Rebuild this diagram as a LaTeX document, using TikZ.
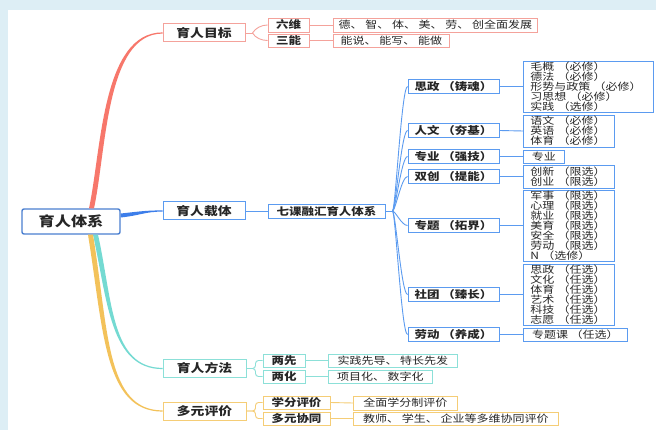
\documentclass[tikz,border=0pt]{standalone}
\usepackage{fontspec}
\setmainfont[FakeStretch=1.2]{Noto Sans CJK SC}

\definecolor{bgblue}{HTML}{DDEEF5}
\definecolor{txtgray}{HTML}{262626}
\definecolor{rootblue}{HTML}{4A7FD0}
\definecolor{salline}{HTML}{F7776B}
\definecolor{salbox}{HTML}{F4A29B}
\definecolor{bline}{HTML}{3D7EEA}
\definecolor{bluebox}{HTML}{5B9BF0}
\definecolor{tealline}{HTML}{74DAD2}
\definecolor{tealbox}{HTML}{8CE0D8}
\definecolor{oraline}{HTML}{F3C25A}
\definecolor{orabox}{HTML}{F5CD76}

\newcommand{\stackfont}{\fontsize{10}{10}\selectfont\lineskiplimit=-20pt\relax}
\newcommand{\wordfont}{\fontsize{10}{11}\selectfont}
\newcommand{\twofont}{\fontsize{10.4}{12}\selectfont\bfseries}
\newcommand{\onefont}{\fontsize{11.5}{13}\selectfont\bfseries}

\tikzset{
  lone/.style={draw=#1, line width=1pt, fill=white, minimum width=82pt,
    minimum height=18pt, inner sep=0pt, font=\onefont, text=txtgray},
  ltwo/.style={draw=#1, line width=0.9pt, fill=white, minimum height=14pt,
    inner sep=0pt, font=\twofont, text=txtgray},
  leaf/.style={draw=#1, line width=0.8pt, fill=white, anchor=west,
    inner sep=0pt, font=\wordfont, text=txtgray},
  stack/.style={leaf=#1, align=left, inner xsep=7pt, font=\stackfont},
  twig/.style={draw=#1, line width=0.9pt},
}

\begin{document}
\begin{tikzpicture}[x=1pt,y=-1pt]
  \useasboundingbox (0,0) rectangle (656,430);
  \fill[bgblue] (0,0) rectangle (656,430);
  \fill[white] (8,10) rectangle (656,430);

  % root and first level
  \node[draw=rootblue, line width=1.4pt, rounded corners=2pt, fill=white,
    minimum width=98pt, minimum height=25pt, inner sep=0pt,
    font=\fontsize{13.5}{15}\selectfont\bfseries, text=txtgray] (root) at (71,221.5) {育人体系};
  \node[lone=salbox] (goal) at (204,33) {育人目标};
  \node[lone=bluebox] (carrier) at (204,211) {育人载体};
  \node[lone=tealbox, minimum width=83pt] (method) at (204.5,368.5) {育人方法};
  \node[lone=orabox, minimum width=83pt] (evalu) at (204.5,411) {多元评价};

  % goal
  \node[ltwo=salbox, minimum width=41pt] (liuwei) at (288.5,25) {六维};
  \node[ltwo=salbox, minimum width=41pt, minimum height=13pt] (sanneng) at (288.5,40.5) {三能};
  \node[leaf=salbox, minimum width=204pt, minimum height=14pt] (liuweiL) at (333,25) {德、 智、 体、 美、 劳、 创全面发展};
  \node[leaf=salbox, minimum width=116pt, minimum height=13pt] (sannengL) at (333,40.5) {能说、 能写、 能做};

  % carrier
  \node[ltwo=bluebox, minimum width=117pt] (qike) at (326.5,211) {七课融汇育人体系};
  \foreach \nm/\y/\txt in {sz/86.5/思政 （铸魂）, rw/130.5/人文 （夯基）,
      zy/156.5/专业 （强技）, sc/176.5/双创 （提能）, zt/225.5/专题 （拓界）,
      st/294.5/社团 （臻长）, ld/334.5/劳动 （养成）}
    \node[ltwo=bluebox, minimum width=91pt, minimum height=13.5pt] (\nm) at (453.5,\y) {\txt};
  \node[stack=bluebox, text width=116pt, minimum height=51pt] (szL) at (523,86.5)
    {毛概 （必修）\\德法 （必修）\\形势与政策 （必修）\\习思想 （必修）\\实践 （选修）};
  \node[stack=bluebox, text width=77pt, minimum height=32pt] (rwL) at (523,131)
    {语文 （必修）\\英语 （必修）\\体育 （必修）};
  \node[leaf=bluebox, minimum width=41pt, minimum height=13pt] (zyL) at (523,156.5) {专业};
  \node[stack=bluebox, text width=77pt, minimum height=23pt] (scL) at (523,176.5)
    {创新 （限选）\\创业 （限选）};
  \node[stack=bluebox, text width=77pt, minimum height=71pt] (ztL) at (523,225.5)
    {军事 （限选）\\心理 （限选）\\就业 （限选）\\美育 （限选）\\安全 （限选）\\劳动 （限选）\\N （选修）};
  \node[stack=bluebox, text width=77pt, minimum height=61pt] (stL) at (523,294.5)
    {思政 （任选）\\文化 （任选）\\体育 （任选）\\艺术 （任选）\\科技 （任选）\\志愿 （任选）};
  \node[leaf=bluebox, minimum width=104pt, minimum height=13pt] (ldL) at (523,334.5) {专题课 （任选）};

  % method
  \node[ltwo=tealbox, minimum width=42pt, minimum height=13pt] (liangxian) at (284,360.5) {两先};
  \node[ltwo=tealbox, minimum width=42pt, minimum height=13pt] (lianghua) at (284,376.5) {两化};
  \node[leaf=tealbox, minimum width=129pt, minimum height=13pt] (liangxianL) at (328,360.5) {实践先导、 特长先发};
  \node[leaf=tealbox, minimum width=104pt, minimum height=13pt] (lianghuaL) at (328,376.5) {项目化、 数字化};

  % evaluation
  \node[ltwo=orabox, minimum width=67pt, minimum height=13pt] (xuefen) at (296.5,402.5) {学分评价};
  \node[ltwo=orabox, minimum width=67pt, minimum height=13pt] (duoyuan) at (296.5,418.5) {多元协同};
  \node[leaf=orabox, minimum width=104pt, minimum height=14pt] (xuefenL) at (353,403) {全面学分制评价};
  \node[leaf=orabox, minimum width=205pt, minimum height=13pt] (duoyuanL) at (353,418.5) {教师、 学生、 企业等多维协同评价};

  % main branches
  \fill[salline] ([xshift=18pt]root.north) .. controls (101.5,150) and (102,32.4) .. ([yshift=0.6pt]goal.west)
    -- ([yshift=-0.6pt]goal.west) .. controls (106,33.6) and (106.5,150) .. ([xshift=23pt]root.north) -- cycle;
  \fill[bline] ([yshift=8pt]root.east) .. controls (140,211.5) and (145,210.4) .. ([yshift=0.6pt]carrier.west)
    -- ([yshift=-0.6pt]carrier.west) .. controls (145,211.6) and (140,215.5) .. ([yshift=4pt]root.east) -- cycle;
  \fill[tealline] ([xshift=22pt]root.south) .. controls (107.5,300) and (110,369.1) .. ([yshift=-0.6pt]method.west)
    -- ([yshift=0.6pt]method.west) .. controls (111,367.9) and (112.5,300) .. ([xshift=27pt]root.south) -- cycle;
  \fill[oraline] ([xshift=17pt]root.south) .. controls (103.5,330) and (104,411.6) .. ([yshift=-0.6pt]evalu.west)
    -- ([yshift=0.6pt]evalu.west) .. controls (106,410.4) and (108.5,330) .. ([xshift=22pt]root.south) -- cycle;

  % twigs
  \draw[twig=salbox] (goal.east) -- ++(7,0) coordinate (gfork);
  \draw[twig=salbox] (gfork) .. controls +(3,-5) and +(-6,0) .. (liuwei.west);
  \draw[twig=salbox] (gfork) .. controls +(3,5) and +(-6,0) .. (sanneng.west);
  \draw[twig=salbox] (liuwei.east) -- (liuweiL.west);
  \draw[twig=salbox] (sanneng.east) -- (sannengL.west);

  \draw[twig=bluebox] (carrier.east) -- (qike.west);
  \draw[twig=bluebox] (qike.east) -- ++(7,0) coordinate (qfork);
  \foreach \nm in {sz,rw,zy,sc,zt,st,ld} {
    \draw[twig=bluebox] (qfork) .. controls +(3,0) and +(-6,0) .. (\nm.west);
    \draw[twig=bluebox] (\nm.east) -- (\nm L.west);
  }

  \draw[twig=tealbox, rounded corners=3pt] (method.east) -- ++(9,0) |- (liangxian.west);
  \draw[twig=tealbox, rounded corners=3pt] (method.east) -- ++(9,0) |- (lianghua.west);
  \draw[twig=tealbox] (liangxian.east) -- (liangxianL.west);
  \draw[twig=tealbox] (lianghua.east) -- (lianghuaL.west);

  \draw[twig=orabox, rounded corners=3pt] (evalu.east) -- ++(9,0) |- (xuefen.west);
  \draw[twig=orabox, rounded corners=3pt] (evalu.east) -- ++(9,0) |- (duoyuan.west);
  \draw[twig=orabox] (xuefen.east) -- (xuefenL.west);
  \draw[twig=orabox] (duoyuan.east) -- (duoyuanL.west);
\end{tikzpicture}
\end{document}
